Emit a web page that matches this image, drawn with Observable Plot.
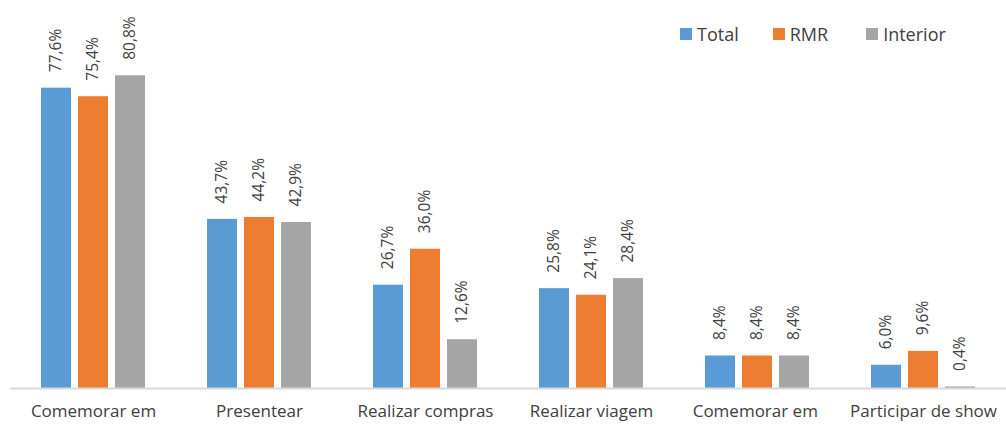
<!DOCTYPE html>
<html>
<head>
<meta charset="utf-8">
<script src="https://cdn.jsdelivr.net/npm/d3@7"></script>
<script src="https://cdn.jsdelivr.net/npm/@observablehq/plot@0.6"></script>
<style>
  body { margin: 0; background: #fff; font-family: "Open Sans", sans-serif; }
  #wrap { position: relative; width: 1006px; height: 427px; }
  #legend { position: absolute; top: 22px; left: 680px; display: flex; align-items: center; font-size: 18px; color: #404040; }
  #legend .item { display: flex; align-items: center; }
  #legend .sw { width: 12px; height: 12px; margin-right: 5px; }
</style>
</head>
<body>
<div id="wrap"></div>
<script>
const categories = ["Comemorar em", "Presentear", "Realizar compras", "Realizar viagem", "Comemorar em ", "Participar de show"];
const series = ["Total", "RMR", "Interior"];
const totalValues = [77.6, 43.7, 26.7, 25.8, 8.4, 6.0];
const rmrValues = [75.4, 44.2, 36.0, 24.1, 8.4, 9.6];
const interiorValues = [80.8, 42.9, 12.6, 28.4, 8.4, 0.4];
const colors = ["#5b9bd5", "#ed7d31", "#a5a5a5"];

const valuesBySeries = [totalValues, rmrValues, interiorValues];
const data = [];
categories.forEach((c, i) => {
  series.forEach((s, j) => data.push({category: c, series: s, value: valuesBySeries[j][i]}));
});
const fmt = v => v.toFixed(1).replace(".", ",") + "%";

const chart = Plot.plot({
  width: 1006,
  height: 427,
  marginLeft: 10,
  marginRight: 0,
  marginTop: 1,
  marginBottom: 39,
  style: {fontFamily: "Open Sans, sans-serif", color: "#404040", background: "#fff", overflow: "visible"},
  fx: {domain: categories, padding: 0, axis: null},
  x: {domain: series, paddingInner: 0.2, paddingOuter: 0.8, axis: null},
  y: {domain: [0, 100], axis: null},
  color: {domain: series, range: colors},
  marks: [
    Plot.barY(data, {fx: "category", x: "series", y: "value", fill: "series"}),
    Plot.ruleY([0], {stroke: "#d9d9d9", strokeWidth: 2}),
    Plot.text(data, {fx: "category", x: "series", y: "value", text: d => fmt(d.value), rotate: -90, textAnchor: "start", dy: -16, fontSize: 15.5, fill: "#404040"}),
    Plot.text(categories, {fx: d => d, text: d => d, frameAnchor: "bottom", lineAnchor: "middle", dy: 23, fontSize: 17, fill: "#404040", style: {letterSpacing: "0.8px"}})
  ]
});
document.getElementById("wrap").appendChild(chart);

const legendGaps = [34, 38];
const legend = document.createElement("div");
legend.id = "legend";
series.forEach((s, j) => {
  const item = document.createElement("div");
  item.className = "item";
  item.style.marginRight = (legendGaps[j] || 0) + "px";
  const sw = document.createElement("div");
  sw.className = "sw";
  sw.style.background = colors[j];
  const t = document.createElement("span");
  t.textContent = s;
  item.appendChild(sw);
  item.appendChild(t);
  legend.appendChild(item);
});
document.getElementById("wrap").appendChild(legend);
</script>
</body>
</html>
